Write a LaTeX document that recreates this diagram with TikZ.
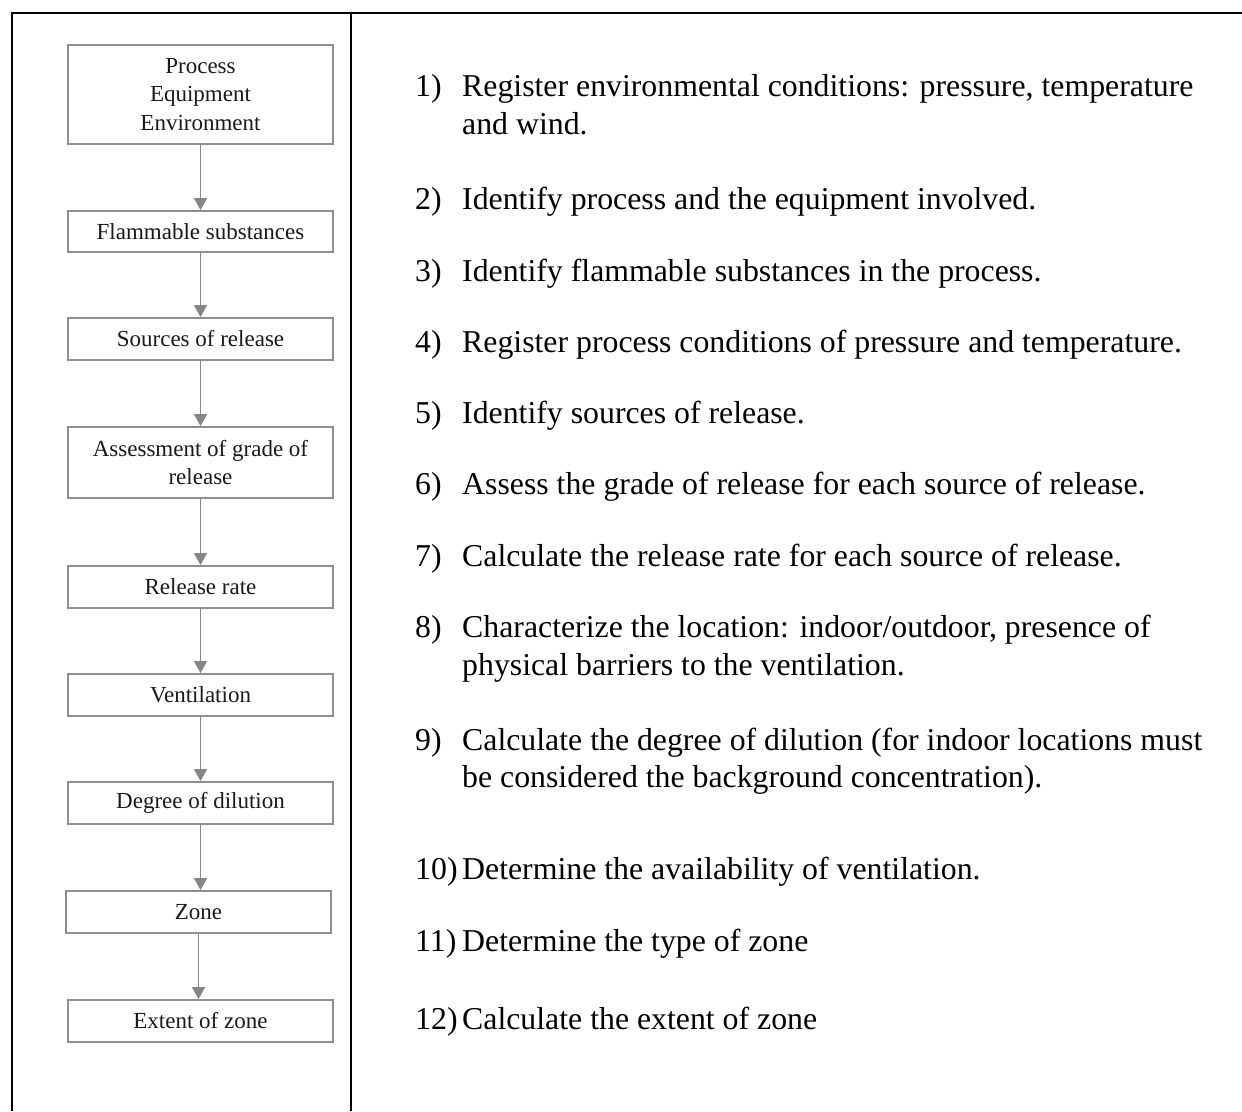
\documentclass[tikz,border=0pt]{standalone}
\usepackage{fontspec}
\setmainfont{Liberation Serif}
\usetikzlibrary{arrows.meta}
\definecolor{boxgray}{HTML}{8F8F8F}
\definecolor{arrgray}{HTML}{868686}
\definecolor{txt}{HTML}{1A1A1A}
\tikzset{
  flowbox/.style={draw=boxgray, line width=1.8pt, fill=white, minimum width=265pt, inner sep=0pt, align=center, text=txt, font=\fontsize{23}{28.5}\selectfont},
  flowarrow/.style={draw=arrgray, line width=1.6pt, -{Triangle[width=13pt,length=12pt]}, arrgray},
  rule/.style={draw=black, line width=2.2pt},
  num/.style={anchor=base west, inner sep=0pt, text=black, font=\fontsize{31.8}{38}\selectfont},
  item/.style={anchor=base west, inner sep=0pt, text=black, font=\fontsize{31.8}{38}\selectfont}
}
\begin{document}
\begin{tikzpicture}[x=1pt,y=-1pt]
\useasboundingbox (0,0) rectangle (1242,1111);
% table rules
\coordinate (tl) at (12,13);
\coordinate (tr) at (1242,13);
\coordinate (bl) at (12,1111);
\coordinate (mt) at (351,13);
\coordinate (mb) at (351,1111);
\draw[rule] (tr) -- (tl) -- (bl);
\draw[rule] (mt) -- (mb);
% flow boxes
\node[flowbox, minimum height=99pt] (b1) at (200.5,94.5) {Process\\Equipment\\Environment};
\node[flowbox, minimum height=41pt] (b2) at (200.5,231.5) {Flammable substances};
\node[flowbox, minimum height=42pt] (b3) at (200.5,339) {Sources of release};
\node[flowbox, minimum height=71pt] (b4) at (200.5,462.5) {Assessment of grade of\\release};
\node[flowbox, minimum height=42pt] (b5) at (200.5,587) {Release rate};
\node[flowbox, minimum height=42pt] (b6) at (200.5,695) {Ventilation};
\node[flowbox, minimum height=42pt] (b7) at (200.5,803) {Degree of dilution};
\node[flowbox, minimum height=42pt] (b8) at (198.5,912) {Zone};
\node[flowbox, minimum height=42pt] (b9) at (200.5,1021) {Extent of zone};
\foreach \a/\b in {b1/b2,b2/b3,b3/b4,b4/b5,b5/b6,b6/b7,b7/b8,b8/b9}{
  \draw[flowarrow] (\a.south) -- (\a.south |- \b.north);
}
% list
\node[num] (n1) at (415,96) {1)};
\node[item] (t1a) at (462,96) {Register environmental conditions: pressure, temperature};
\node[item] (t1b) at (462,134) {and wind.};
\node[num] (n2) at (415,209) {2)};
\node[item] (t2) at (462,209) {Identify process and the equipment involved.};
\node[num] (n3) at (415,281) {3)};
\node[item] (t3) at (462,281) {Identify flammable substances in the process.};
\node[num] (n4) at (415,352) {4)};
\node[item] (t4) at (462,352) {Register process conditions of pressure and temperature.};
\node[num] (n5) at (415,423) {5)};
\node[item] (t5) at (462,423) {Identify sources of release.};
\node[num] (n6) at (415,494) {6)};
\node[item] (t6) at (462,494) {Assess the grade of release for each source of release.};
\node[num] (n7) at (415,566) {7)};
\node[item] (t7) at (462,566) {Calculate the release rate for each source of release.};
\node[num] (n8) at (415,637) {8)};
\node[item] (t8a) at (462,637) {Characterize the location: indoor/outdoor, presence of};
\node[item] (t8b) at (462,675) {physical barriers to the ventilation.};
\node[num] (n9) at (415,750) {9)};
\node[item] (t9a) at (462,750) {Calculate the degree of dilution (for indoor locations must};
\node[item] (t9b) at (462,787) {be considered the background concentration).};
\node[num] (n10) at (415,879) {10)};
\node[item] (t10) at (462,879) {Determine the availability of ventilation.};
\node[num] (n11) at (415,951) {11)};
\node[item] (t11) at (462,951) {Determine the type of zone};
\node[num] (n12) at (415,1029) {12)};
\node[item] (t12) at (462,1029) {Calculate the extent of zone};
\end{tikzpicture}
\end{document}
